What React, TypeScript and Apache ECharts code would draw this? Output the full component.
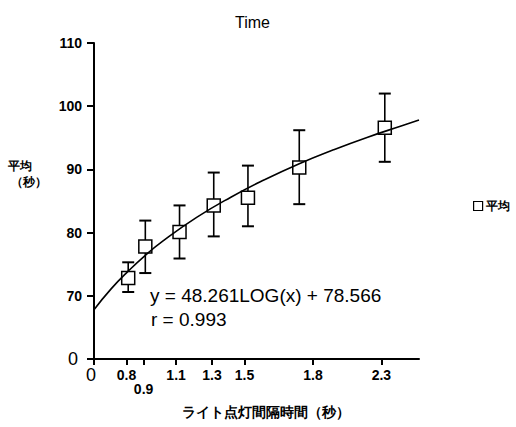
import React, { useEffect, useRef } from "react";
import * as echarts from "echarts";

// Fitted curve
const curveX = [0.6, 0.7, 0.8, 0.9, 1.0, 1.2, 1.4, 1.6, 1.8, 2.0, 2.2, 2.4, 2.5];
const curveY = [67.8, 71.1, 73.9, 76.4, 78.6, 82.4, 85.6, 88.4, 90.9, 93.1, 95.1, 96.9, 97.8];

// Mean values with error bars
const xValues = [0.8, 0.9, 1.1, 1.3, 1.5, 1.8, 2.3];
const means = [72.8, 77.8, 80.1, 84.3, 85.5, 90.3, 96.6];
const errLow = [70.6, 73.6, 75.9, 79.4, 81.0, 84.5, 91.2];
const errHigh = [75.3, 81.9, 84.3, 89.5, 90.6, 96.2, 102.0];

// Axis ticks as placed on the picture (broken axes: first tick displayed as 0)
const xTickValues = [0.6, 0.79, 0.89, 1.08, 1.29, 1.48, 1.88, 2.28];
const xTickLabels = ["0", "0.8", "0.9", "1.1", "1.3", "1.5", "1.8", "2.3"];
const yTickValues = [60, 70, 80, 90, 100, 110];
const yTickLabels = ["0", "70", "80", "90", "100", "110"];

const FONT = "'Liberation Sans', Arial, sans-serif";

export default function App() {
  const ref = useRef<HTMLDivElement>(null);
  useEffect(() => {
    if (!ref.current) return;
    const chart = echarts.init(ref.current, undefined, { renderer: "svg" });
    const errData = xValues.map((x, i) => [x, errLow[i], errHigh[i]]);
    const meanData = xValues.map((x, i) => [x, means[i]]);
    const curveData = curveX.map((x, i) => [x, curveY[i]]);
    chart.setOption({
      animation: false,
      backgroundColor: "#ffffff",
      textStyle: { fontFamily: FONT },
      grid: { left: 94, top: 43, width: 325, height: 316, containLabel: false },
      legend: {
        data: ["平均"],
        left: 468,
        top: 195,
        icon: "rect",
        itemWidth: 9,
        itemHeight: 9,
        itemGap: 4,
        textStyle: { fontFamily: FONT, fontSize: 12, fontWeight: "bold", color: "#000", padding: [0, 0, 0, -2] },
        itemStyle: { color: "#fff", borderColor: "#000", borderWidth: 1.2 },
      },
      xAxis: {
        type: "value",
        min: 0.6,
        max: 2.5,
        splitLine: { show: false },
        axisLine: { lineStyle: { color: "#000", width: 2 } },
        axisTick: {
          show: true,
          length: 6,
          customValues: xTickValues,
          lineStyle: { color: "#000", width: 2 },
        },
        axisLabel: {
          customValues: xTickValues,
          margin: 9,
          color: "#000",
          fontFamily: FONT,
          fontSize: 14,
          fontWeight: "bold",
          lineHeight: 14,
          formatter: (v: number) => {
            const idx = xTickValues.findIndex((t) => Math.abs(t - v) < 1e-6);
            if (idx < 0) return "";
            const lab = xTickLabels[idx];
            if (idx === 0) return "{big|" + lab + "}";
            if (lab === "0.9") return "\n" + lab;
            return lab;
          },
          rich: {
            big: { fontSize: 18, fontWeight: "normal", fontFamily: FONT, color: "#000", padding: [-1, 6, 0, 0] },
          },
        },
      },
      yAxis: {
        type: "value",
        min: 60,
        max: 110,
        interval: 10,
        splitLine: { show: false },
        axisLine: { show: true, lineStyle: { color: "#000", width: 2 } },
        axisTick: { show: true, length: 7, lineStyle: { color: "#000", width: 2 } },
        axisLabel: {
          margin: 12,
          color: "#000",
          fontFamily: FONT,
          fontSize: 14,
          fontWeight: "bold",
          formatter: (v: number) => {
            const idx = yTickValues.indexOf(v);
            if (idx < 0) return "";
            if (idx === 0) return "{big|" + yTickLabels[idx] + "}";
            return yTickLabels[idx];
          },
          rich: {
            big: { fontSize: 18, fontWeight: "normal", fontFamily: FONT, color: "#000", padding: [0, 4, 0, 0] },
          },
        },
      },
      series: [
        {
          name: "err",
          type: "custom",
          z: 2,
          data: errData,
          encode: { x: 0, y: [1, 2] },
          renderItem: (params: any, api: any) => {
            const x = api.value(0);
            const lo = api.coord([x, api.value(1)]);
            const hi = api.coord([x, api.value(2)]);
            const w = 6;
            const st = { stroke: "#000", lineWidth: 1.6 };
            return {
              type: "group",
              children: [
                { type: "line", shape: { x1: lo[0], y1: lo[1], x2: hi[0], y2: hi[1] }, style: st },
                { type: "line", shape: { x1: hi[0] - w, y1: hi[1], x2: hi[0] + w, y2: hi[1] }, style: { stroke: "#000", lineWidth: 2 } },
                { type: "line", shape: { x1: lo[0] - w, y1: lo[1], x2: lo[0] + w, y2: lo[1] }, style: { stroke: "#000", lineWidth: 2 } },
              ],
            };
          },
        },
        {
          name: "平均",
          type: "scatter",
          z: 3,
          symbol: "rect",
          symbolSize: 13,
          data: meanData,
          itemStyle: { color: "#fff", borderColor: "#000", borderWidth: 1.5, opacity: 1 },
        },
        {
          name: "fit",
          type: "line",
          z: 4,
          smooth: true,
          showSymbol: false,
          symbol: "none",
          data: curveData,
          lineStyle: { color: "#000", width: 1.6 },
        },
      ],
      graphic: [
        { type: "text", left: 235, top: 14, style: { text: "Time", fontFamily: FONT, fontSize: 16, fill: "#000" } },
        { type: "text", left: 8, top: 160, style: { text: "平均", fontFamily: FONT, fontSize: 12, fontWeight: "bold", fill: "#000" } },
        { type: "text", left: 11, top: 176, style: { text: "（秒）", fontFamily: FONT, fontSize: 12, fontWeight: "bold", fill: "#000" } },
        { type: "text", left: 182, top: 405, style: { text: "ライト点灯間隔時間（秒）", fontFamily: FONT, fontSize: 14, fontWeight: "bold", fill: "#000" } },
        { type: "text", left: 150, top: 286, style: { text: "y = 48.261LOG(x) + 78.566", fontFamily: FONT, fontSize: 19, fill: "#000" } },
        { type: "text", left: 151, top: 310, style: { text: "r = 0.993", fontFamily: FONT, fontSize: 19, fill: "#000" } },
      ],
    });
    return () => chart.dispose();
  }, []);
  return <div ref={ref} style={{ position: "fixed", left: 0, top: 0, width: 516, height: 427 }} />;
}
